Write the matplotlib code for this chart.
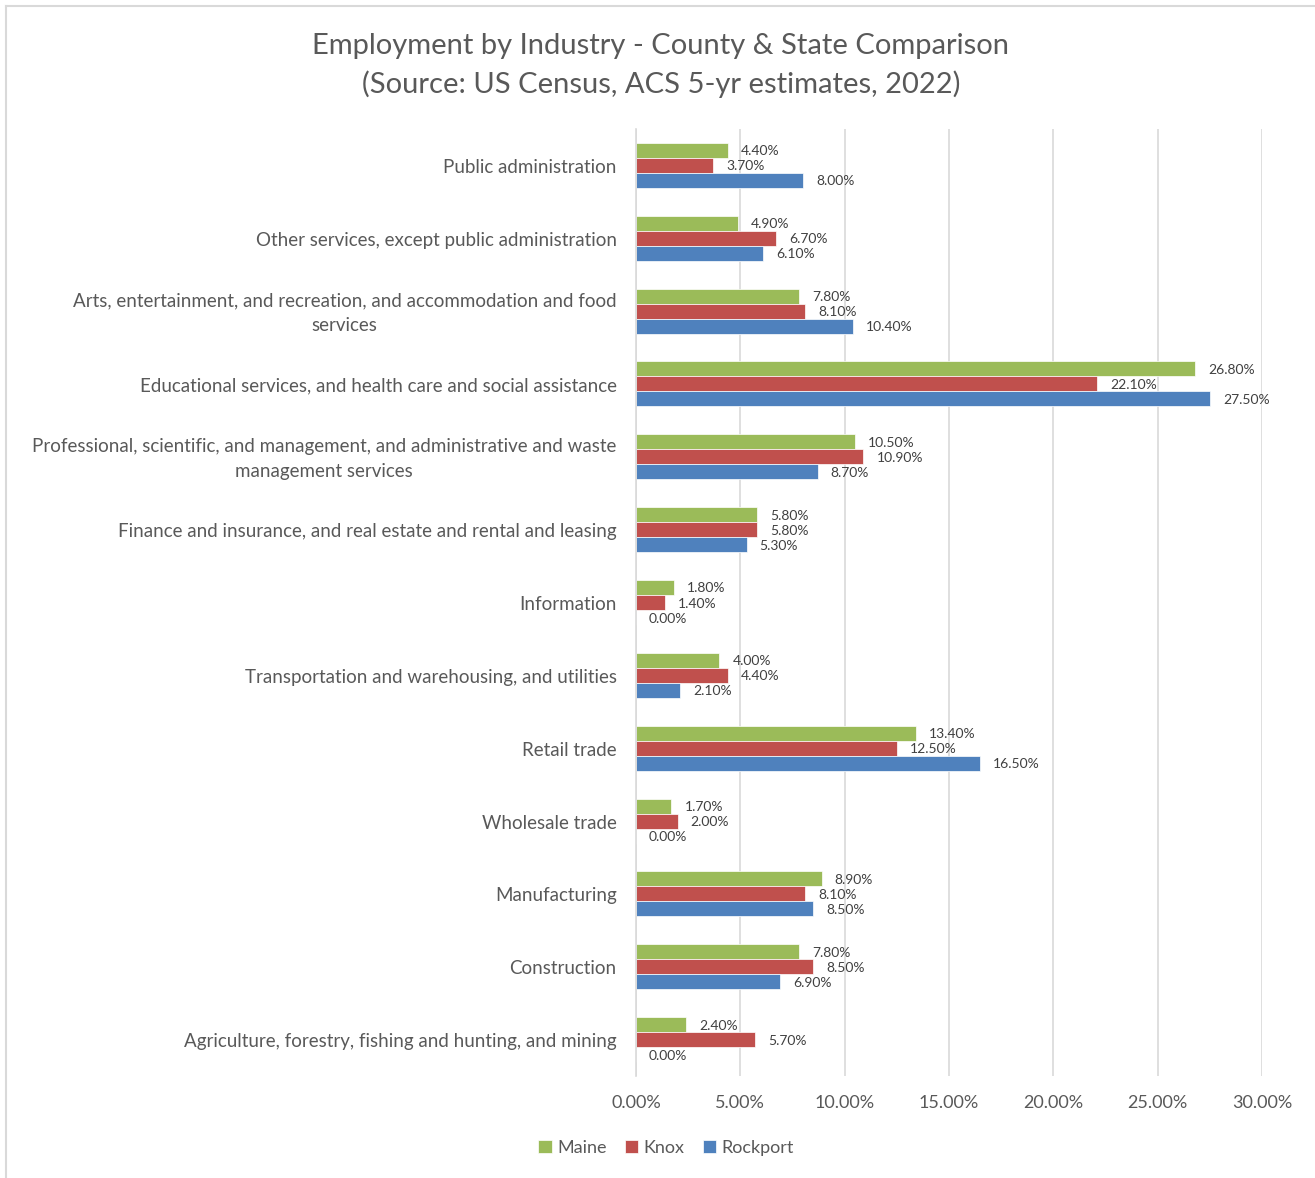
import matplotlib
matplotlib.use("Agg")
import matplotlib.pyplot as plt
import matplotlib.transforms as mtransforms
from matplotlib.lines import Line2D
from matplotlib.ticker import FuncFormatter, MultipleLocator
import numpy as np

plt.rcParams['font.family'] = ['Lato', 'DejaVu Sans']

categories = [
    "Public administration",
    "Other services, except public administration",
    "Arts, entertainment, and recreation, and accommodation and food\nservices",
    "Educational services, and health care and social assistance",
    "Professional, scientific, and management, and administrative and waste\nmanagement services",
    "Finance and insurance, and real estate and rental and leasing",
    "Information",
    "Transportation and warehousing, and utilities",
    "Retail trade",
    "Wholesale trade",
    "Manufacturing",
    "Construction",
    "Agriculture, forestry, fishing and hunting, and mining",
]
maine = [4.4, 4.9, 7.8, 26.8, 10.5, 5.8, 1.8, 4.0, 13.4, 1.7, 8.9, 7.8, 2.4]
knox = [3.7, 6.7, 8.1, 22.1, 10.9, 5.8, 1.4, 4.4, 12.5, 2.0, 8.1, 8.5, 5.7]
rockport = [8.0, 6.1, 10.4, 27.5, 8.7, 5.3, 0.0, 2.1, 16.5, 0.0, 8.5, 6.9, 0.0]
series_names = ["Maine", "Knox", "Rockport"]
series_colors = ["#9BBB59", "#C0504D", "#4F81BD"]

text_color = "#595959"
grid_color = "#D9D9D9"

W, H = 1315, 1178
fig = plt.figure(figsize=(W / 100, H / 100), dpi=100)

# chart border (left and top edges visible)
fig.add_artist(Line2D([6 / W, 6 / W], [0, 1 - 6 / H], transform=fig.transFigure,
                      color="#D9D9D9", lw=1.5))
fig.add_artist(Line2D([6 / W, 1], [1 - 6 / H, 1 - 6 / H], transform=fig.transFigure,
                      color="#D9D9D9", lw=1.5))

left, right = 636 / W, 1262 / W
top, bottom = 1 - 129 / H, 1 - 1076 / H
ax = fig.add_axes([left, bottom, right - left, top - bottom])

y = np.arange(len(categories))
bh = 0.206
offsets = [-bh, 0.0, bh]
data = [maine, knox, rockport]

for vals, off, col, name in zip(data, offsets, series_colors, series_names):
    ax.barh(y + off, vals, height=bh, color=col, label=name,
            edgecolor="white", linewidth=0.5)
    for yi, v in zip(y, vals):
        ax.annotate(f"{v:.2f}%", xy=(v, yi + off), xytext=(13, -1),
                    textcoords="offset pixels",
                    ha="left", va="center", fontsize=10, color="#404040")

ax.set_xlim(0, 30)
ax.set_ylim(len(categories) - 0.5, -0.5)
ax.xaxis.set_major_locator(MultipleLocator(5))
ax.xaxis.set_major_formatter(FuncFormatter(lambda v, p: f"{v:.2f}%"))
ax.grid(axis="x", color=grid_color, lw=1.2)
ax.set_axisbelow(True)
for s in ["top", "right", "bottom"]:
    ax.spines[s].set_visible(False)
ax.spines["left"].set_color(grid_color)
ax.spines["left"].set_linewidth(1.2)
ax.tick_params(axis="both", length=0, colors=text_color)
ax.tick_params(axis="x", pad=14, labelsize=13)
ax.tick_params(axis="y", pad=14, labelsize=13.5)
ax.set_yticks(y)
ax.set_yticklabels(categories)
nudge = mtransforms.ScaledTranslation(0, -2 / 100, fig.dpi_scale_trans)
for lbl in ax.get_yticklabels():
    lbl.set_multialignment("center")
    lbl.set_linespacing(1.55)
    lbl.set_verticalalignment("center")
    lbl.set_transform(lbl.get_transform() + nudge)

fig.text(661 / W, 1 - 65.5 / H,
         "Employment by Industry - County & State Comparison\n(Source: US Census, ACS 5-yr estimates, 2022)",
         ha="center", va="center", fontsize=21, color=text_color, linespacing=1.5)

handles, labels = ax.get_legend_handles_labels()
fig.legend(handles, labels, loc="center", bbox_to_anchor=(666 / W, 1 - 1148 / H),
           ncol=3, frameon=False, fontsize=13, labelcolor=text_color,
           handlelength=0.75, handleheight=0.75, handletextpad=0.3, columnspacing=1.0)

fig.savefig("out.png", dpi=100, facecolor="white")
